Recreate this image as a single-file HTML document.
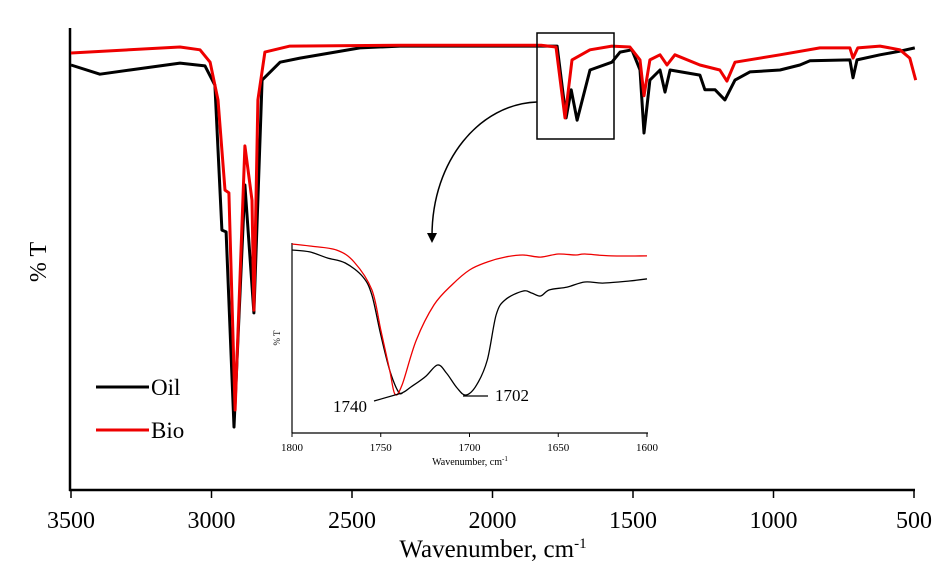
<!DOCTYPE html>
<html><head><meta charset="utf-8"><style>
body{margin:0;background:#fff;}
svg{display:block;font-family:"Liberation Serif",serif;}
</style></head><body>
<svg id="chart" width="952" height="571"></svg>
<script>
const mainWn=[3500,3397,3290,3112,3023,2988,2963,2948,2920,2881,2849,2820,2756,2685,2472,2329,1770,1738,1720,1699,1653,1575,1546,1504,1475,1461,1440,1404,1386,1368,1262,1244,1208,1173,1137,1084,977,906,870,728,717,703,621,550,497];
const oilT=[92.4,90.4,91.3,92.8,92.2,88,56.5,56.1,13.7,66.3,38.5,89.1,93,93.9,96.1,96.5,96.5,80.9,87,80.4,91.3,93,95.2,95.7,91.3,77.6,89.1,91.3,86.5,91.3,90.2,87,87,84.8,89.1,90.9,91.3,92.4,93.3,93.5,89.6,93.5,94.6,95.4,96.1];
const bioWn=[3500,3112,3041,3005,2977,2952,2938,2916,2881,2856,2849,2835,2810,2721,2329,1827,1774,1742,1717,1653,1575,1511,1475,1461,1440,1404,1379,1351,1262,1191,1166,1137,977,835,728,717,700,621,550,515,494];
const bioT=[95,96.3,95.7,93,84.8,65.2,64.6,17.4,74.8,63,39.1,84.8,95.2,96.5,96.7,96.7,96.3,80.9,93.5,95.7,96.5,96.3,93.5,85.7,93.5,94.6,92.4,94.6,92.4,91.3,88.9,93,94.6,96.1,96.1,93.9,96.1,96.5,95.7,93.9,89.1];
const mainTicks=[3500,3000,2500,2000,1500,1000,500];
const insetWnRed=[1800,1790,1775,1765,1755,1750,1745,1742,1738,1730,1720,1710,1700,1690,1680,1670,1660,1650,1640,1635,1620,1600];
const insetRedT=[99.5,98.4,96.3,90,75.3,54.2,33.2,20.5,25.3,48.9,67.4,77.9,85.8,90,92.6,93.7,92.6,94.2,93.7,94.2,93.2,93.2];
const insetWnBlack=[1800,1790,1780,1770,1760,1755,1750,1745,1740,1737,1733,1725,1718,1713,1707,1702,1696,1690,1685,1680,1670,1665,1660,1655,1645,1635,1625,1610,1600];
const insetBlackT=[96.3,95.3,92.1,89.5,82.1,72.6,51.6,33.2,21.6,21.6,24.2,29.5,35.8,31.6,23.7,20,25.3,38.4,62.1,70,74.7,73.7,72.1,75.3,76.8,79.5,78.9,80,81.1];
const insetTicks=[1800,1750,1700,1650,1600];

const NS="http://www.w3.org/2000/svg";
const svg=document.getElementById('chart');
function mk(t,a,p){const e=document.createElementNS(NS,t);for(const k in a)e.setAttribute(k,a[k]);(p||svg).appendChild(e);return e;}
const X=w=>71+(3500-w)*(843/3000);
const Y=t=>490-t*4.6;
const IX=w=>292+(1800-w)*(355/200);
const IY=t=>433-t*1.9;
function path(ws,ts,fx,fy){return ws.map((w,i)=>(i?'L':'M')+fx(w).toFixed(1)+','+fy(ts[i]).toFixed(1)).join(' ');}
function smooth(ws,ts,fx,fy){
  const p=ws.map((w,i)=>[fx(w),fy(ts[i])]);
  let d='M'+p[0][0].toFixed(1)+','+p[0][1].toFixed(1);
  for(let i=0;i<p.length-1;i++){
    const p0=p[i-1]||p[i],p1=p[i],p2=p[i+1],p3=p[i+2]||p2;
    const c1=[p1[0]+(p2[0]-p0[0])/6,p1[1]+(p2[1]-p0[1])/6];
    const c2=[p2[0]-(p3[0]-p1[0])/6,p2[1]-(p3[1]-p1[1])/6];
    d+=' C'+c1.map(v=>v.toFixed(1))+' '+c2.map(v=>v.toFixed(1))+' '+p2.map(v=>v.toFixed(1));
  }
  return d;
}

// main axes
let e=mk('line',{x1:70,y1:28,x2:70,y2:491,stroke:'#000','stroke-width':2.5});

e=mk('line',{x1:69,y1:490,x2:915,y2:490,stroke:'#000','stroke-width':2.5});

mainTicks.forEach(w=>{
  const t=mk('line',{x1:X(w),y1:490,x2:X(w),y2:498,stroke:'#000','stroke-width':1.5});
  
  const l=mk('text',{x:X(w),y:528,'text-anchor':'middle','font-size':24});
  l.textContent=w;
  
});
e=mk('text',{x:493,y:557,'text-anchor':'middle','font-size':25});
e.innerHTML='Wavenumber, cm<tspan font-size="15" dy="-9">-1</tspan>';

e=mk('text',{x:46,y:262,'text-anchor':'middle','font-size':24,transform:'rotate(-90 46 262)'});
e.textContent='% T';


// main series
e=mk('path',{d:path(mainWn,oilT,X,Y),fill:'none',stroke:'#000','stroke-width':3,'stroke-linejoin':'round'});

e=mk('path',{d:path(bioWn,bioT,X,Y),fill:'none',stroke:'#e00','stroke-width':3,'stroke-linejoin':'round'});


// zoom box and arrow
e=mk('rect',{x:537,y:33,width:77,height:106,fill:'none',stroke:'#000','stroke-width':1.5});

e=mk('path',{d:'M537,102 C480,104 432,160 432,236',fill:'none',stroke:'#000','stroke-width':1.5});

e=mk('path',{d:'M427,233 L437,233 L432,243 Z',fill:'#000'});


// legend
e=mk('line',{x1:96,y1:387,x2:149,y2:387,stroke:'#000','stroke-width':3});

e=mk('text',{x:151,y:395,'font-size':23});e.textContent='Oil';

e=mk('line',{x1:96,y1:430,x2:149,y2:430,stroke:'#e00','stroke-width':3});

e=mk('text',{x:151,y:438,'font-size':23});e.textContent='Bio';


// inset
e=mk('line',{x1:292,y1:243,x2:292,y2:433,stroke:'#000','stroke-width':1.2});

e=mk('line',{x1:292,y1:433,x2:648,y2:433,stroke:'#000','stroke-width':1.2});

insetTicks.forEach(w=>{
  const t=mk('line',{x1:IX(w),y1:433,x2:IX(w),y2:437,stroke:'#000','stroke-width':1});
  
  const l=mk('text',{x:IX(w),y:451,'text-anchor':'middle','font-size':11});
  l.textContent=w;
  
});
e=mk('text',{x:470,y:465,'text-anchor':'middle','font-size':10});
e.innerHTML='Wavenumber, cm<tspan font-size="7" dy="-4">-1</tspan>';

e=mk('text',{x:280,y:338,'text-anchor':'middle','font-size':9,transform:'rotate(-90 280 338)'});
e.textContent='% T';

e=mk('path',{d:smooth(insetWnBlack,insetBlackT,IX,IY),fill:'none',stroke:'#000','stroke-width':1.3});

e=mk('path',{d:smooth(insetWnRed,insetRedT,IX,IY),fill:'none',stroke:'#e00','stroke-width':1.3});

e=mk('line',{x1:374,y1:401,x2:402,y2:393,stroke:'#000','stroke-width':1.2});

e=mk('text',{x:333,y:412,'font-size':17});e.textContent='1740';

e=mk('line',{x1:463,y1:396,x2:488,y2:396,stroke:'#000','stroke-width':1.2});

e=mk('text',{x:495,y:401,'font-size':17});e.textContent='1702';

</script>
</body></html>
